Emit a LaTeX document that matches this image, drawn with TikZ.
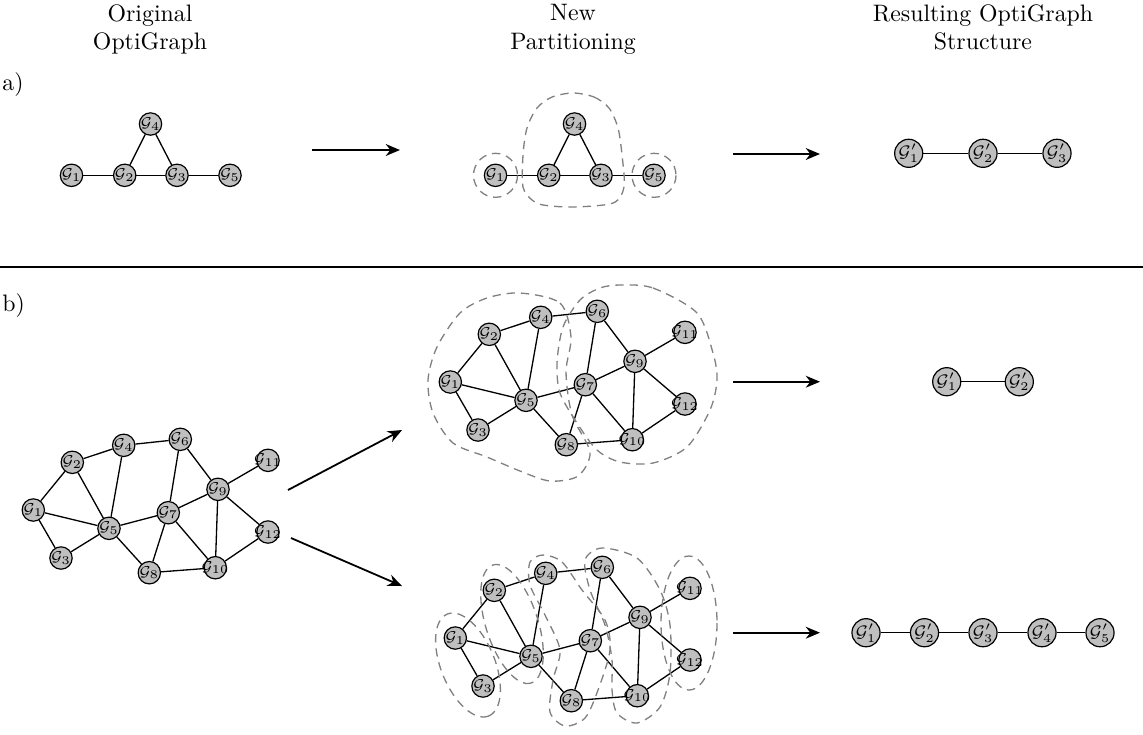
\documentclass[tikz,border=0pt]{standalone}
\usetikzlibrary{arrows.meta}
\newcommand{\gl}[1]{\makebox[0pt]{$\mathcal{G}_{#1}$}}
\newcommand{\glp}[1]{\makebox[0pt]{$\mathcal{G}'_{#1}$}}
\begin{document}
\begin{tikzpicture}[x=0.42pt,y=-0.42pt,
  vert/.style={circle,draw,fill=gray!50,inner sep=0pt,minimum size=9.4pt,line width=0.5pt,font=\fontsize{6.5}{7}\selectfont},
  vertp/.style={vert,minimum size=11.8pt,font=\scriptsize},
  part/.style={gray,dash pattern=on 3.5pt off 2.5pt,line width=0.55pt},
  flow/.style={-{Stealth[length=6pt,width=5pt]},line width=0.75pt},
  every edge/.style={draw,line width=0.55pt}]
\useasboundingbox (0,0) rectangle (1143,734);

% headings
\node[align=center,anchor=north,inner sep=0pt] (hd1) at (150,4) {Original\\OptiGraph};
\node[align=center,anchor=north,inner sep=0pt] (hd2) at (573,4) {New\\Partitioning};
\node[align=center,anchor=north,inner sep=0pt] (hd3) at (983,4) {Resulting OptiGraph\\Structure};
\node[anchor=base west,inner sep=0pt] (la) at (2,90) {a)};
\node[anchor=base west,inner sep=0pt] (lb) at (2,311) {b)};
\coordinate (rl) at (0,267); \coordinate (rr) at (1143,267);
\draw[line width=0.5pt] (rl) -- (rr);

% a) original and partitioned graph
\foreach \cp/\dx in {a/0, p/424}{
\begin{scope}[shift={(\dx,0)}]
\draw (71.5,175.3) node[vert](\cp1){\gl1}  (124.7,175.3) node[vert](\cp2){\gl2}
      (177,175.3) node[vert](\cp3){\gl3}   (150.5,124) node[vert](\cp4){\gl4}
      (230,175.3) node[vert](\cp5){\gl5};
\path[-]
    (\cp1) edge (\cp2)
    (\cp2) edge (\cp3)
    (\cp3) edge (\cp5)
    (\cp2) edge (\cp4)
    (\cp4) edge (\cp3);
\end{scope}
}
\draw[part] (p1) circle (22);
\draw[part] (p5) circle (22);
\draw[part] plot[smooth cycle] coordinates {(573,93) (594,97) (609,108) (618,128) (622,155) (624,187)
    (613,203) (573,207) (543,205) (532,200) (523,187) (523,155) (527,128) (537,108) (552,97)};

% a) result
\draw (908.7,153.3) node[vertp](r1){\glp1}  (983,153.3) node[vertp](r2){\glp2}
      (1057,153.3) node[vertp](r3){\glp3};
\path[-]
    (r1) edge (r2)
    (r2) edge (r3);

\coordinate (fa1) at (312,150); \coordinate (fa2) at (400,150);
\coordinate (fa3) at (733,154); \coordinate (fa4) at (820,154);
\draw[flow] (fa1) -- (fa2);
\draw[flow] (fa3) -- (fa4);

% b) original graph and its two partitionings
\foreach \cp/\dx/\dy in {o/0/0, t/417/-128, u/422/128}{
\begin{scope}[shift={(\dx,\dy)}]
\draw (33.3,510) node[vert](\cp1){\gl1}      (72.3,462.3) node[vert](\cp2){\gl2}
      (61,558) node[vert](\cp3){\gl3}        (123.7,445.3) node[vert](\cp4){\gl4}
      (109,528.3) node[vert](\cp5){\gl5}     (180.3,439.3) node[vert](\cp6){\gl6}
      (168.3,512.7) node[vert](\cp7){\gl7}   (149.3,572.7) node[vert](\cp8){\gl8}
      (218,489.3) node[vert](\cp9){\gl9}     (215.3,567.7) node[vert](\cp10){\gl{10}}
      (268,460.3) node[vert](\cp11){\gl{11}} (268,532) node[vert](\cp12){\gl{12}};
\path[-]
    (\cp1) edge (\cp2)   (\cp1) edge (\cp3)   (\cp1) edge (\cp5)
    (\cp2) edge (\cp4)   (\cp2) edge (\cp5)   (\cp3) edge (\cp5)
    (\cp4) edge (\cp5)   (\cp4) edge (\cp6)   (\cp5) edge (\cp7)
    (\cp5) edge (\cp8)   (\cp6) edge (\cp7)   (\cp6) edge (\cp9)
    (\cp7) edge (\cp8)   (\cp7) edge (\cp9)   (\cp7) edge (\cp10)
    (\cp8) edge (\cp10)  (\cp9) edge (\cp10)  (\cp9) edge (\cp11)
    (\cp9) edge (\cp12)  (\cp10) edge (\cp12);
\end{scope}
}

% two parts
\draw[part] plot[smooth cycle] coordinates {(520,293) (560,303) (571,337) (566,372) (572,415) (590,452)
    (578,476) (550,481) (520,471) (487,457) (453,443) (433,413) (428,380) (437,347) (460,313) (487,298)};
\draw[part] plot[smooth cycle] coordinates {(620,285) (653,288) (697,313) (713,353) (717,380) (710,410)
    (687,447) (653,463) (620,462) (597,450) (577,423) (560,393) (557,363) (563,327) (580,300) (600,288)};

% five parts
\draw[part, rotate around={-68:(468,665)}] (468,665) ellipse (55 and 27);
\draw[part, rotate around={-72:(512,624)}] (512,624) ellipse (62 and 26);
\draw[part] plot[smooth cycle] coordinates {(543,555) (562,562) (582,590) (605,620) (610,650) (598,690)
    (585,718) (565,726) (550,712) (553,680) (560,650) (545,615) (530,585) (530,562)};
\draw[part] plot[smooth cycle] coordinates {(602,548) (637,558) (660,590) (670,625) (670,673) (660,707)
    (637,723) (617,713) (612,690) (612,660) (605,625) (590,590) (585,560)};
\draw[part] (689,623) ellipse (28 and 67);

% b) results
\draw (946.7,381.7) node[vertp](s1){\glp1}  (1019.3,381.7) node[vertp](s2){\glp2};
\path[-] (s1) edge (s2);
\draw (866,632.7) node[vertp](q1){\glp1}  (924.5,632.7) node[vertp](q2){\glp2}
      (983,632.7) node[vertp](q3){\glp3}  (1042,632.7) node[vertp](q4){\glp4}
      (1100,632.7) node[vertp](q5){\glp5};
\path[-]
    (q1) edge (q2)
    (q2) edge (q3)
    (q3) edge (q4)
    (q4) edge (q5);

\coordinate (fb1) at (288,490); \coordinate (fb2) at (402,430);
\coordinate (fb3) at (291,538); \coordinate (fb4) at (402,586);
\coordinate (fb5) at (733,381.7); \coordinate (fb6) at (820,381.7);
\coordinate (fb7) at (733,632.7); \coordinate (fb8) at (820,632.7);
\draw[flow] (fb1) -- (fb2);
\draw[flow] (fb3) -- (fb4);
\draw[flow] (fb5) -- (fb6);
\draw[flow] (fb7) -- (fb8);
\end{tikzpicture}
\end{document}
